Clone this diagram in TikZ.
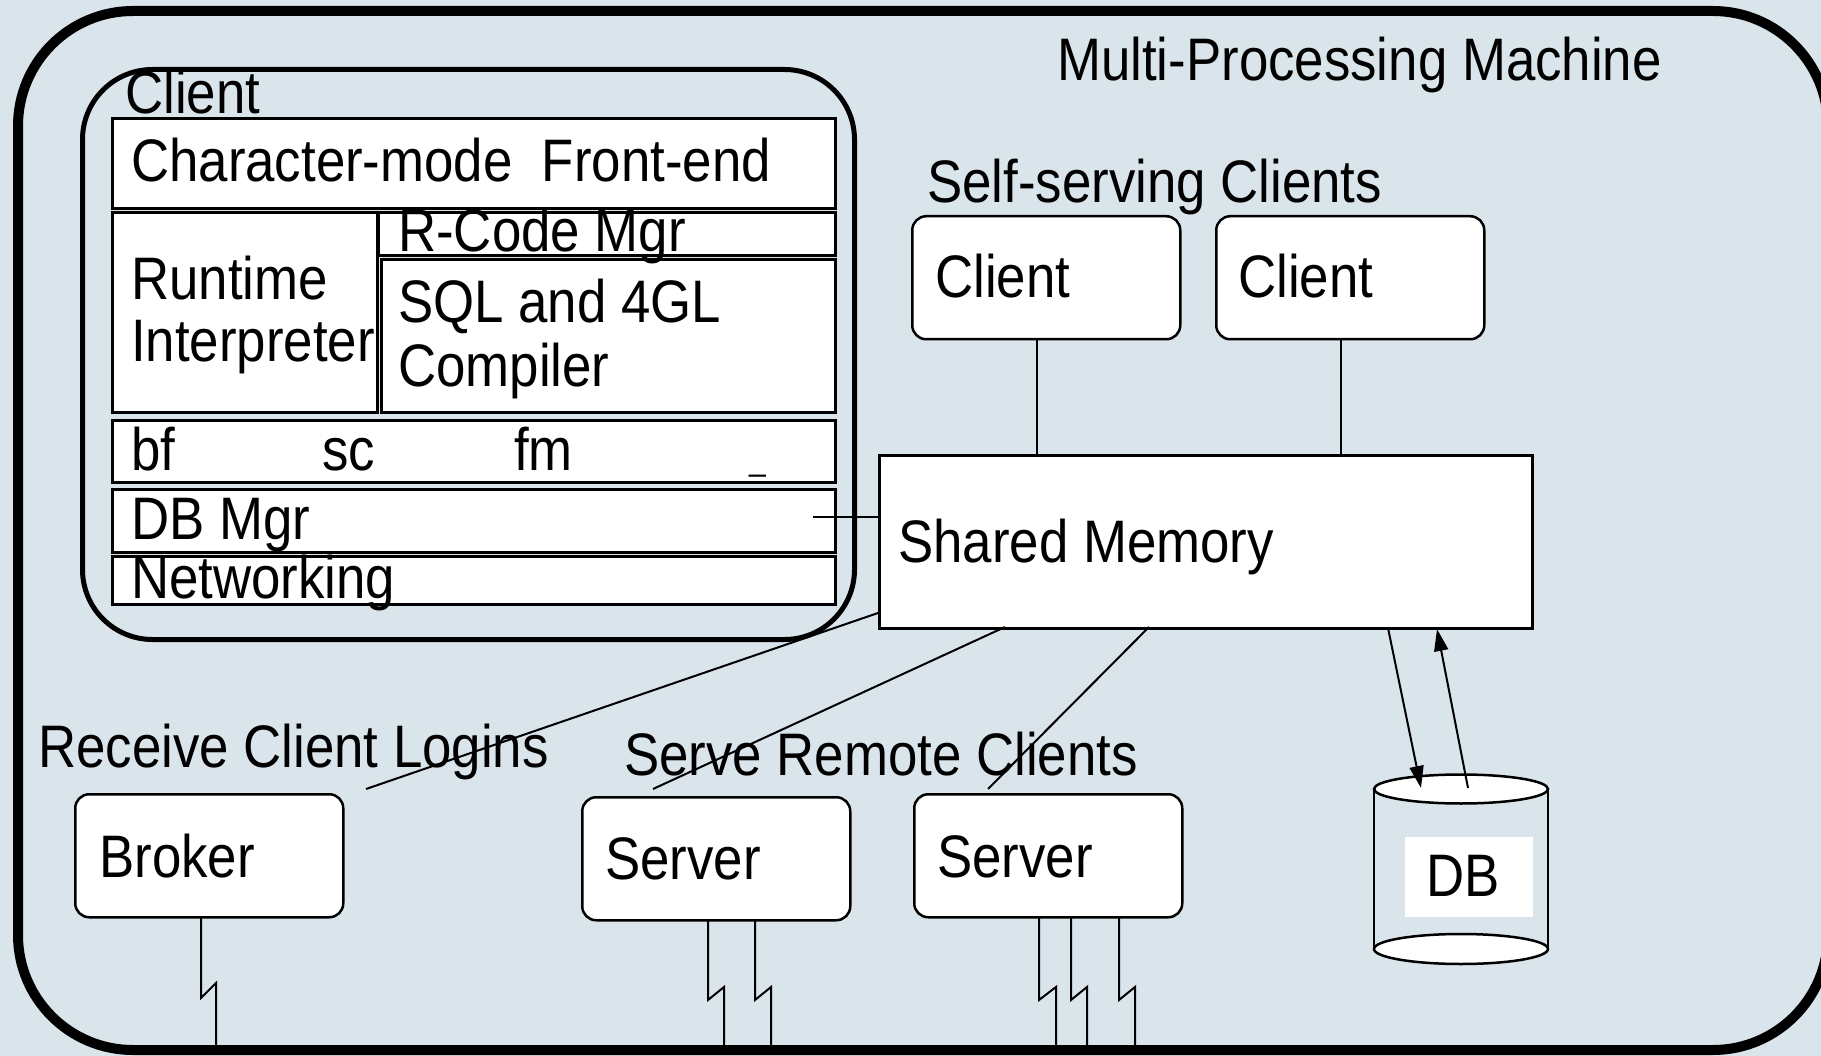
\documentclass[tikz,border=0pt]{standalone}
\usepackage{fontspec}
\newfontfamily\arl[FakeStretch=0.88]{Liberation Sans}
\usetikzlibrary{arrows.meta}
\definecolor{bg}{RGB}{218,228,235}
\begin{document}
\begin{tikzpicture}[x=1pt,y=-1pt,
  txt/.style={anchor=base west, inner sep=0pt, font=\arl\fontsize{60}{66}\selectfont},
  layer/.style={draw, fill=white, line width=2.8pt, anchor=north west, inner sep=0pt},
  rbox/.style={draw, fill=white, line width=2.5pt, rounded corners=14pt, anchor=north west, inner sep=0pt, minimum width=268pt, minimum height=123pt},
  conn/.style={line width=2pt},
  arr/.style={line width=2pt, -{Stealth[length=22pt,width=14pt,inset=0pt]}},
]
\useasboundingbox (0,0) rectangle (1821,1056);
\fill[bg] (0,0) rectangle (1821,1056);

% client group
\node[draw, line width=5pt, rounded corners=70pt, minimum width=772pt, minimum height=570pt, anchor=north west, inner sep=0pt] (clientgrp) at (80,67) {};
\node[layer, minimum width=723pt, minimum height=90pt] (cm) at (111,117) {};
\node[layer, minimum width=265pt, minimum height=200pt] (rt) at (111,211) {};
\node[layer, minimum width=457pt, minimum height=43pt] (rc) at (377,211) {};
\node[layer, minimum width=454pt, minimum height=153pt] (sql) at (380,258) {};
\node[layer, minimum width=723pt, minimum height=62pt] (bsf) at (111,419) {};
\node[layer, minimum width=723pt, minimum height=63pt] (dbm) at (111,488) {};
\node[layer, minimum width=723pt, minimum height=48pt] (net) at (111,555) {};

\node[txt] (clientlbl) at (125,114) {Client};
\node[txt] (cmt) at (131,182) {Character-mode~ Front-end};
\node[txt] (rt1) at (131,300) {Runtime};
\node[txt] (rt2) at (131,362) {Interpreter};
\node[txt] (rct) at (398,252) {R-Code Mgr};
\node[txt] (sql1) at (398,323) {SQL and 4GL};
\node[txt] (sql2) at (398,387) {Compiler};
\node[txt] (bft) at (131,470) {bf};
\node[txt] (sct) at (322,470) {sc};
\node[txt] (fmt) at (514,470) {fm};
\node[txt, font=\arl\fontsize{34}{40}\selectfont] (uls) at (749,471) {\_};
\node[txt] (dbmt) at (131,539) {DB Mgr};
\node[txt] (nett) at (131,598) {Networking};

% titles
\node[txt] (title) at (1057,81) {Multi-Processing Machine};
\node[txt] (self) at (927,203) {Self-serving Clients};
\node[txt] (recv) at (38,767) {Receive Client Logins};
\node[txt] (serve) at (624,775) {Serve Remote Clients};

% self-serving clients
\node[rbox] (c1) at (911,215) {};
\node[rbox] (c2) at (1215,215) {};
\node[txt] (c1t) at (935,298) {Client};
\node[txt] (c2t) at (1238,298) {Client};

% shared memory
\node[draw, fill=white, line width=2.5pt, anchor=north west, inner sep=0pt, minimum width=653pt, minimum height=173pt] (sm) at (878,454) {};
\node[txt] (smt) at (898,562) {Shared Memory};

\draw[conn] (c1.south -| 1037,0) -- (sm.north -| 1037,0);
\draw[conn] (c2.south -| 1341,0) -- (sm.north -| 1341,0);
\draw[conn] (813,517) coordinate (dbmx) -- (dbmx -| sm.west);

% broker / servers
\node[rbox] (broker) at (74,793) {};
\node[rbox] (srv1) at (581,796) {};
\node[rbox] (srv2) at (913,793) {};
\node[txt] (brokert) at (99,877) {Broker};
\node[txt] (srv1t) at (605,879) {Server};
\node[txt] (srv2t) at (937,877) {Server};

\coordinate (e1) at (366,789);
\coordinate (e2) at (653,789);
\coordinate (e3) at (988,789);
\draw[conn] (878,613) -- (e1);
\draw[conn] (1005,627) -- (e2);
\draw[conn] (1149,627) -- (e3);

% DB
\fill[bg] (1374,789) rectangle (1548,949);
\draw[line width=2.5pt] (1374,789) -- (1374,949) (1548,789) -- (1548,949);
\draw[line width=2.5pt, fill=white] (1461,949) ellipse [x radius=87, y radius=15];
\draw[line width=2.5pt, fill=white] (1461,789) ellipse [x radius=87, y radius=14.5];
\node[fill=white, anchor=north west, inner sep=0pt, minimum width=128pt, minimum height=80pt] (dbbox) at (1405,837) {};
\node[txt] (dbt) at (1426,896) {DB};
\coordinate (dbin) at (1421,788);
\coordinate (dbout) at (1468,788);
\draw[arr] (1388,628) -- (dbin);
\draw[arr] (dbout) -- (1437,629);

% lightning lines
\draw[conn] (201,916) -- (201,998) -- (216,983) -- (216,1051);
\draw[conn] (708,919) -- (708,1000) -- (724,987) -- (724,1051);
\draw[conn] (755,919) -- (755,1000) -- (771,987) -- (771,1051);
\draw[conn] (1039,916) -- (1039,1000) -- (1056,987) -- (1056,1051);
\draw[conn] (1071,916) -- (1071,1000) -- (1087,987) -- (1087,1051);
\draw[conn] (1119,916) -- (1119,1000) -- (1135,987) -- (1135,1051);

% outer frame
\draw[line width=10pt] (133,11) -- (1713,11) arc[start angle=270, end angle=360, radius=115] -- (1828,935) arc[start angle=0, end angle=90, radius=115] -- (133,1050) arc[start angle=90, end angle=180, radius=115] -- (18,126) arc[start angle=180, end angle=270, radius=115] -- cycle;
\end{tikzpicture}
\end{document}
